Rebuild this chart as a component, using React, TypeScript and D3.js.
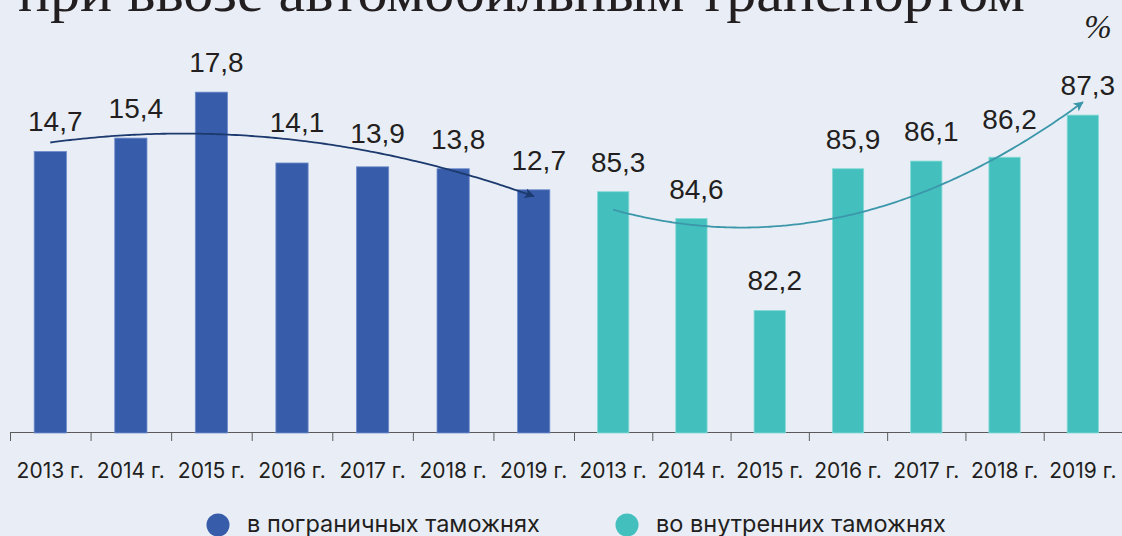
import * as React from "react";
import * as d3 from "d3";

const years = ["2013 г.", "2014 г.", "2015 г.", "2016 г.", "2017 г.", "2018 г.", "2019 г."];
const borderShare = [14.7, 15.4, 17.8, 14.1, 13.9, 13.8, 12.7];
const inlandShare = [85.3, 84.6, 82.2, 85.9, 86.1, 86.2, 87.3];
const seriesNames = ["в пограничных таможнях", "во внутренних таможнях"];
const borderDomain = [0, 20];
const inlandDomain = [79, 89];
const title = "при ввозе автомобильным транспортом";

const WIDTH = 1122;
const HEIGHT = 536;
const BASE = 433;
const TOP = 50;
const BG = "#e9eef6";
const BLUE = "#375ca9";
const TEAL = "#43c0bd";
const INK = "#231f20";

// quadratic least-squares trend, like a spreadsheet order-2 trendline
function quadTrend(values: number[]) {
  const n = values.length;
  const m = (n - 1) / 2;
  const p1 = values.map((_, i) => i - m);
  const c2 = d3.mean(p1, (d) => d * d) as number;
  const p2 = p1.map((d) => d * d - c2);
  const a = d3.mean(values) as number;
  const b1 = d3.sum(values, (v, i) => v * p1[i]) / d3.sum(p1, (d) => d * d);
  const b2 = d3.sum(values, (v, i) => v * p2[i]) / d3.sum(p2, (d) => d * d);
  return (t: number) => a + b1 * (t - m) + b2 * ((t - m) * (t - m) - c2);
}

export default function App() {
  const ref = React.useRef<SVGSVGElement>(null);

  React.useEffect(() => {
    document.body.style.margin = "0";
    document.body.style.background = BG;

    const svg = d3.select(ref.current);
    svg.selectAll("*").remove();

    svg.append("rect").attr("width", WIDTH).attr("height", HEIGHT).attr("fill", BG);

    svg
      .append("text")
      .attr("x", 18)
      .attr("y", 11)
      .attr("font-family", "'Liberation Serif', 'DejaVu Serif', serif")
      .attr("font-size", 58)
      .attr("textLength", 1007)
      .attr("lengthAdjust", "spacingAndGlyphs")
      .attr("fill", INK)
      .text(title);

    svg
      .append("text")
      .attr("x", 1098)
      .attr("y", 38)
      .attr("text-anchor", "middle")
      .attr("font-family", "'Liberation Serif', serif")
      .attr("font-style", "italic")
      .attr("font-size", 33)
      .attr("fill", INK)
      .text("%");

    const defs = svg.append("defs");
    const groups = [
      { key: "b", values: borderShare, domain: borderDomain, range: [10, 574], fill: BLUE, edge: "#6f8dcc", trend: "#1d3a6e" },
      { key: "i", values: inlandShare, domain: inlandDomain, range: [574, 1122], fill: TEAL, edge: "#85dad6", trend: "#3b97a9" },
    ];

    groups.forEach((g) => {
      defs
        .append("marker")
        .attr("id", `arrow-${g.key}`)
        .attr("viewBox", "0 0 10 10")
        .attr("refX", 9)
        .attr("refY", 5)
        .attr("markerUnits", "userSpaceOnUse")
        .attr("markerWidth", 11)
        .attr("markerHeight", 10)
        .attr("orient", "auto")
        .append("path")
        .attr("d", "M0,0 L10,5 L0,10 L2.5,5 z")
        .attr("fill", g.trend);
    });

    // axis line
    svg
      .append("line")
      .attr("x1", 10)
      .attr("x2", WIDTH)
      .attr("y1", BASE - 0.5)
      .attr("y2", BASE - 0.5)
      .attr("stroke", "#5a5a5a")
      .attr("stroke-width", 1);

    groups.forEach((g) => {
      const x = d3
        .scaleBand()
        .domain(years)
        .range(g.range as [number, number])
        .paddingInner(0.6)
        .paddingOuter(0.3);
      const y = d3.scaleLinear().domain(g.domain).range([BASE, TOP]);
      const step = x.step();
      const cx = (i: number) => (x(years[i]) as number) + x.bandwidth() / 2;

      const layer = svg.append("g");

      layer
        .selectAll("rect.bar")
        .data(g.values)
        .join("rect")
        .attr("class", "bar")
        .attr("x", (_, i) => x(years[i]) as number)
        .attr("y", (d) => y(d))
        .attr("width", x.bandwidth())
        .attr("height", (d) => BASE - y(d))
        .attr("fill", g.fill)
        .attr("stroke", g.edge)
        .attr("stroke-width", 0.8);

      // ticks at band boundaries
      layer
        .selectAll("line.tick")
        .data(d3.range(years.length))
        .join("line")
        .attr("class", "tick")
        .attr("x1", (i) => g.range[0] + i * step + 0.5)
        .attr("x2", (i) => g.range[0] + i * step + 0.5)
        .attr("y1", BASE - 1)
        .attr("y2", BASE + 8)
        .attr("stroke", "#5a5a5a");

      layer
        .selectAll("text.year")
        .data(years)
        .join("text")
        .attr("class", "year")
        .attr("x", (_, i) => cx(i))
        .attr("y", 478)
        .attr("text-anchor", "middle")
        .attr("font-family", "Inter, 'Noto Sans', sans-serif")
        .attr("font-size", 21)
        .attr("fill", INK)
        .text((d) => d);

      // trend curve
      const fit = quadTrend(g.values);
      const last = g.values.length - 1;
      const ts = d3.range(0, last + 0.0001, 0.05);
      const line = d3
        .line<number>()
        .x((t) => cx(0) + t * step)
        .y((t) => y(fit(t)))
        .curve(d3.curveMonotoneX);

      layer
        .append("path")
        .attr("d", line(ts))
        .attr("fill", "none")
        .attr("stroke", g.trend)
        .attr("stroke-width", 1.8)
        .attr("marker-end", `url(#arrow-${g.key})`);

      // value labels: above the bar, lifted over the trend line where they would cross it
      const half = 28;
      layer
        .selectAll("text.val")
        .data(g.values)
        .join("text")
        .attr("class", "val")
        .attr("x", (_, i) => cx(i) + 5)
        .attr("y", (d, i) => {
          const base = y(d) - 20;
          const lo = Math.max(0, i + (5 - half) / step);
          const hi = Math.min(last, i + (5 + half) / step);
          if (lo > hi) return base;
          const span = d3.range(lo, hi + 0.001, 0.05).map((t) => y(fit(t)));
          const top = d3.min(span) as number;
          const bottom = d3.max(span) as number;
          const crosses = bottom >= base - 21 && top <= base + 3;
          return crosses ? Math.min(base, top - 5) : base;
        })
        .attr("text-anchor", "middle")
        .attr("font-family", "'Liberation Sans', Arial, sans-serif")
        .attr("font-size", 28)
        .attr("fill", INK)
        .text((d) => d3.format(".1f")(d).replace(".", ","));
    });

    // legend
    const legend = svg
      .selectAll("g.legend")
      .data(seriesNames)
      .join("g")
      .attr("class", "legend")
      .attr("transform", (_, i) => `translate(${i === 0 ? 218 : 627},525)`);

    legend
      .append("circle")
      .attr("r", 11.5)
      .attr("fill", (_, i) => (i === 0 ? BLUE : TEAL));

    legend
      .append("text")
      .attr("x", 29)
      .attr("y", 7)
      .attr("font-family", "Inter, 'Noto Sans', sans-serif")
      .attr("font-size", 23.5)
      .attr("fill", INK)
      .text((d) => d);
  }, []);

  return <svg ref={ref} width={WIDTH} height={HEIGHT} style={{ display: "block" }} />;
}
